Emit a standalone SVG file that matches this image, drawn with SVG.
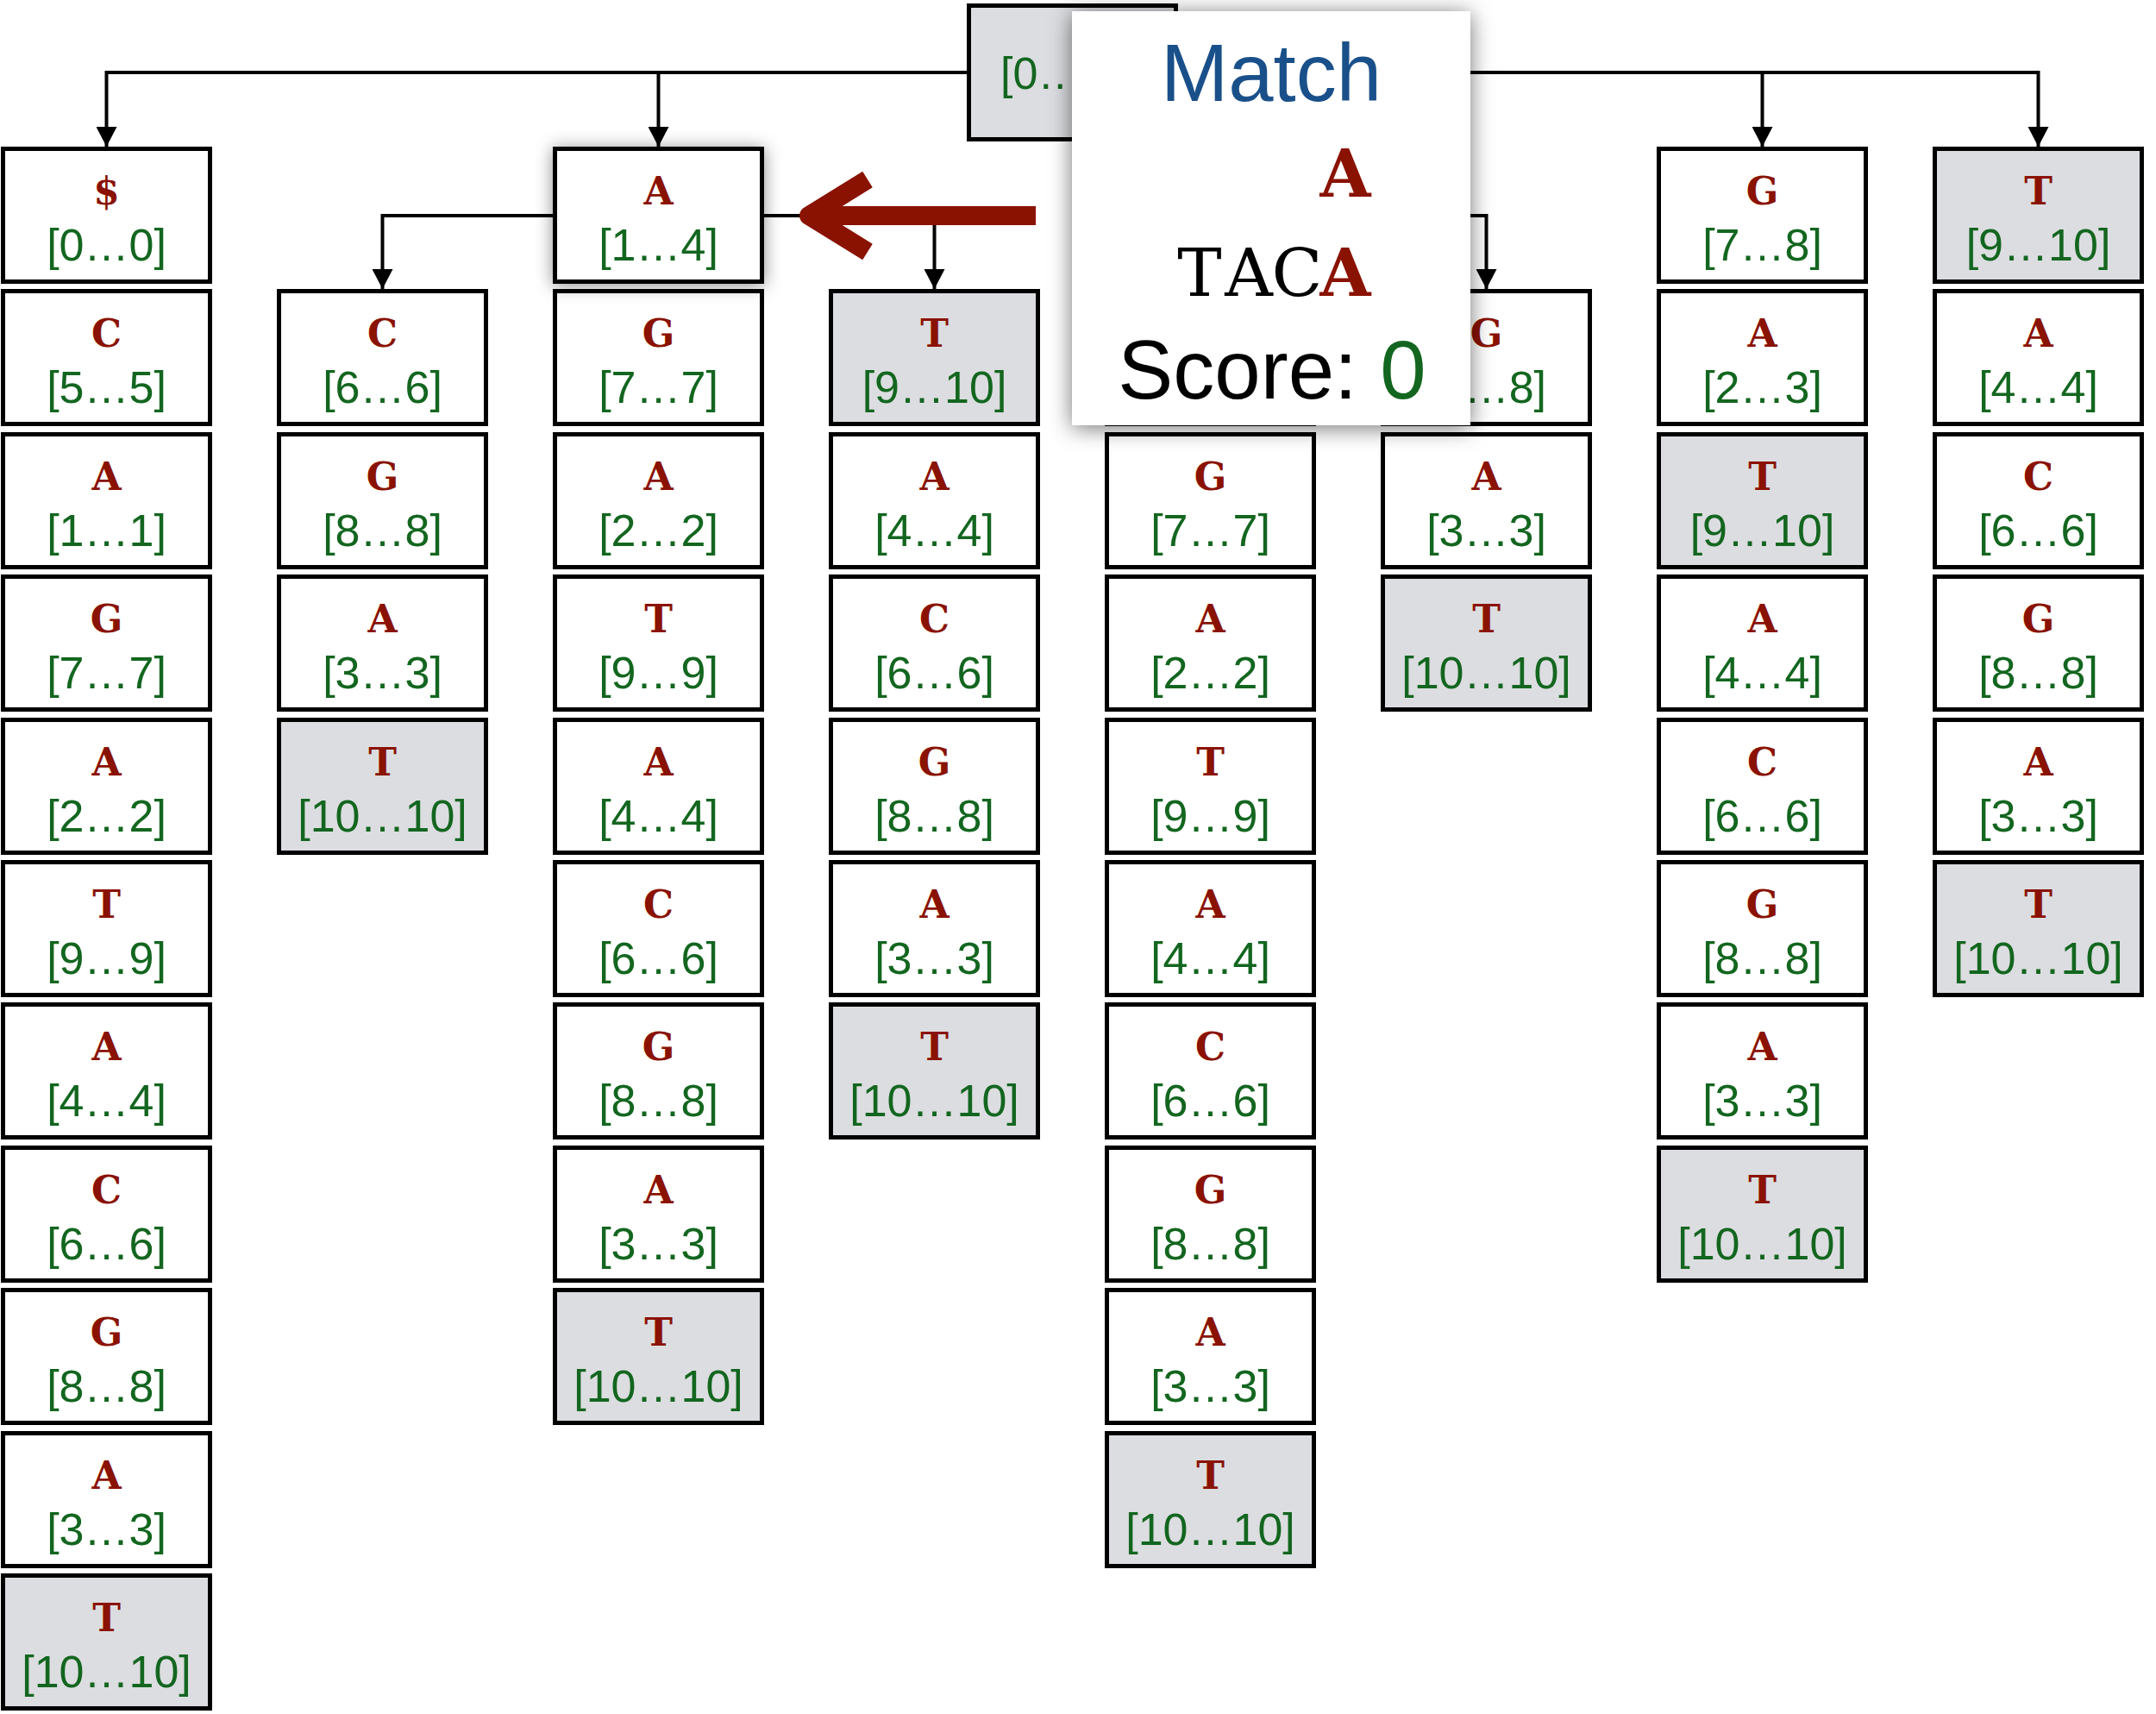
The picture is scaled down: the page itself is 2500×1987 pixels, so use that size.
<svg xmlns="http://www.w3.org/2000/svg" width="2500" height="1987" viewBox="0 0 2500 1987">
  <style>
    .box rect { fill: #ffffff; stroke: #000000; stroke-width: 5; }
    .box.leaf rect { fill: #dcdde0; }
    .ch { font-family: "DejaVu Serif", "Liberation Serif", serif; font-weight: bold; font-size: 44px; fill: #8a1200; text-anchor: middle; }
    .ix { font-family: "Liberation Sans", Arial, sans-serif; font-size: 52px; fill: #13661f; text-anchor: middle; }
    .edge { fill: none; stroke: #000000; stroke-width: 4; }
    .pointer { fill: none; stroke: #8a1200; stroke-width: 22; }
    .seq { font-family: "DejaVu Serif", "Liberation Serif", serif; font-size: 77px; fill: #000000; text-anchor: middle; }
    .seq.hit { font-weight: bold; fill: #8a1200; }
  </style>
  <defs>
    <marker id="head" viewBox="0 0 23 24" refX="23" refY="12" markerWidth="23" markerHeight="24" markerUnits="userSpaceOnUse" orient="auto-start-reverse">
      <path d="M0,0 L23,12 L0,24 Z" fill="#000000"/>
    </marker>
    <filter id="glow" x="-30%" y="-30%" width="160%" height="160%">
      <feDropShadow dx="0" dy="2" stdDeviation="10" flood-color="#000000" flood-opacity="0.45"/>
    </filter>
    <filter id="panelShadow" x="-20%" y="-20%" width="140%" height="140%">
      <feDropShadow dx="0" dy="3" stdDeviation="13" flood-color="#000000" flood-opacity="0.55"/>
    </filter>
  </defs>

  <rect width="2500" height="1987" fill="#ffffff"/>

  <!-- connectors -->
  <g id="connectors">
    <path class="edge" d="M123.5,170 V84 H2363.5 V170" marker-start="url(#head)" marker-end="url(#head)"/>
    <path class="edge" d="M763.5,84 V170" marker-end="url(#head)"/>
    <path class="edge" d="M1403.5,84 V170" marker-end="url(#head)"/>
    <path class="edge" d="M2043.5,84 V170" marker-end="url(#head)"/>
    <path class="edge" d="M443.5,335 V250 H1083.5 V335" marker-start="url(#head)" marker-end="url(#head)"/>
    <path class="edge" d="M1403.5,250 H1723.5 V335" marker-end="url(#head)"/>
  </g>

  <!-- root -->
  <g id="root" class="box leaf" transform="translate(1121,4)">
    <rect x="2.5" y="2.5" width="240" height="155"/>
    <text class="ix" x="39" y="99" style="text-anchor:start">[0…</text>
  </g>

  <!-- column 1 -->
  <g id="c1r0" class="box" transform="translate(1,170)"><rect x="2.5" y="2.5" width="240" height="154"/><text class="ch" x="122.5" y="67">$</text><text class="ix" x="122.5" y="132">[0…0]</text></g>
  <g id="c1r1" class="box" transform="translate(1,335)"><rect x="2.5" y="2.5" width="240" height="154"/><text class="ch" x="122.5" y="67">C</text><text class="ix" x="122.5" y="132">[5…5]</text></g>
  <g id="c1r2" class="box" transform="translate(1,501)"><rect x="2.5" y="2.5" width="240" height="154"/><text class="ch" x="122.5" y="67">A</text><text class="ix" x="122.5" y="132">[1…1]</text></g>
  <g id="c1r3" class="box" transform="translate(1,666)"><rect x="2.5" y="2.5" width="240" height="154"/><text class="ch" x="122.5" y="67">G</text><text class="ix" x="122.5" y="132">[7…7]</text></g>
  <g id="c1r4" class="box" transform="translate(1,832)"><rect x="2.5" y="2.5" width="240" height="154"/><text class="ch" x="122.5" y="67">A</text><text class="ix" x="122.5" y="132">[2…2]</text></g>
  <g id="c1r5" class="box" transform="translate(1,997)"><rect x="2.5" y="2.5" width="240" height="154"/><text class="ch" x="122.5" y="67">T</text><text class="ix" x="122.5" y="132">[9…9]</text></g>
  <g id="c1r6" class="box" transform="translate(1,1162)"><rect x="2.5" y="2.5" width="240" height="154"/><text class="ch" x="122.5" y="67">A</text><text class="ix" x="122.5" y="132">[4…4]</text></g>
  <g id="c1r7" class="box" transform="translate(1,1328)"><rect x="2.5" y="2.5" width="240" height="154"/><text class="ch" x="122.5" y="67">C</text><text class="ix" x="122.5" y="132">[6…6]</text></g>
  <g id="c1r8" class="box" transform="translate(1,1493)"><rect x="2.5" y="2.5" width="240" height="154"/><text class="ch" x="122.5" y="67">G</text><text class="ix" x="122.5" y="132">[8…8]</text></g>
  <g id="c1r9" class="box" transform="translate(1,1659)"><rect x="2.5" y="2.5" width="240" height="154"/><text class="ch" x="122.5" y="67">A</text><text class="ix" x="122.5" y="132">[3…3]</text></g>
  <g id="c1r10" class="box leaf" transform="translate(1,1824)"><rect x="2.5" y="2.5" width="240" height="154"/><text class="ch" x="122.5" y="67">T</text><text class="ix" x="122.5" y="132">[10…10]</text></g>

  <!-- column 2 -->
  <g id="c2r1" class="box" transform="translate(321,335)"><rect x="2.5" y="2.5" width="240" height="154"/><text class="ch" x="122.5" y="67">C</text><text class="ix" x="122.5" y="132">[6…6]</text></g>
  <g id="c2r2" class="box" transform="translate(321,501)"><rect x="2.5" y="2.5" width="240" height="154"/><text class="ch" x="122.5" y="67">G</text><text class="ix" x="122.5" y="132">[8…8]</text></g>
  <g id="c2r3" class="box" transform="translate(321,666)"><rect x="2.5" y="2.5" width="240" height="154"/><text class="ch" x="122.5" y="67">A</text><text class="ix" x="122.5" y="132">[3…3]</text></g>
  <g id="c2r4" class="box leaf" transform="translate(321,832)"><rect x="2.5" y="2.5" width="240" height="154"/><text class="ch" x="122.5" y="67">T</text><text class="ix" x="122.5" y="132">[10…10]</text></g>

  <!-- column 3 (below the highlighted node) -->
  <g id="c3r1" class="box" transform="translate(641,335)"><rect x="2.5" y="2.5" width="240" height="154"/><text class="ch" x="122.5" y="67">G</text><text class="ix" x="122.5" y="132">[7…7]</text></g>
  <g id="c3r2" class="box" transform="translate(641,501)"><rect x="2.5" y="2.5" width="240" height="154"/><text class="ch" x="122.5" y="67">A</text><text class="ix" x="122.5" y="132">[2…2]</text></g>
  <g id="c3r3" class="box" transform="translate(641,666)"><rect x="2.5" y="2.5" width="240" height="154"/><text class="ch" x="122.5" y="67">T</text><text class="ix" x="122.5" y="132">[9…9]</text></g>
  <g id="c3r4" class="box" transform="translate(641,832)"><rect x="2.5" y="2.5" width="240" height="154"/><text class="ch" x="122.5" y="67">A</text><text class="ix" x="122.5" y="132">[4…4]</text></g>
  <g id="c3r5" class="box" transform="translate(641,997)"><rect x="2.5" y="2.5" width="240" height="154"/><text class="ch" x="122.5" y="67">C</text><text class="ix" x="122.5" y="132">[6…6]</text></g>
  <g id="c3r6" class="box" transform="translate(641,1162)"><rect x="2.5" y="2.5" width="240" height="154"/><text class="ch" x="122.5" y="67">G</text><text class="ix" x="122.5" y="132">[8…8]</text></g>
  <g id="c3r7" class="box" transform="translate(641,1328)"><rect x="2.5" y="2.5" width="240" height="154"/><text class="ch" x="122.5" y="67">A</text><text class="ix" x="122.5" y="132">[3…3]</text></g>
  <g id="c3r8" class="box leaf" transform="translate(641,1493)"><rect x="2.5" y="2.5" width="240" height="154"/><text class="ch" x="122.5" y="67">T</text><text class="ix" x="122.5" y="132">[10…10]</text></g>

  <!-- column 4 -->
  <g id="c4r1" class="box leaf" transform="translate(961,335)"><rect x="2.5" y="2.5" width="240" height="154"/><text class="ch" x="122.5" y="67">T</text><text class="ix" x="122.5" y="132">[9…10]</text></g>
  <g id="c4r2" class="box" transform="translate(961,501)"><rect x="2.5" y="2.5" width="240" height="154"/><text class="ch" x="122.5" y="67">A</text><text class="ix" x="122.5" y="132">[4…4]</text></g>
  <g id="c4r3" class="box" transform="translate(961,666)"><rect x="2.5" y="2.5" width="240" height="154"/><text class="ch" x="122.5" y="67">C</text><text class="ix" x="122.5" y="132">[6…6]</text></g>
  <g id="c4r4" class="box" transform="translate(961,832)"><rect x="2.5" y="2.5" width="240" height="154"/><text class="ch" x="122.5" y="67">G</text><text class="ix" x="122.5" y="132">[8…8]</text></g>
  <g id="c4r5" class="box" transform="translate(961,997)"><rect x="2.5" y="2.5" width="240" height="154"/><text class="ch" x="122.5" y="67">A</text><text class="ix" x="122.5" y="132">[3…3]</text></g>
  <g id="c4r6" class="box leaf" transform="translate(961,1162)"><rect x="2.5" y="2.5" width="240" height="154"/><text class="ch" x="122.5" y="67">T</text><text class="ix" x="122.5" y="132">[10…10]</text></g>

  <!-- column 5 -->
  <g id="c5r1" class="box" transform="translate(1281,335)"><rect x="2.5" y="2.5" width="240" height="154"/></g>
  <g id="c5r2" class="box" transform="translate(1281,501)"><rect x="2.5" y="2.5" width="240" height="154"/><text class="ch" x="122.5" y="67">G</text><text class="ix" x="122.5" y="132">[7…7]</text></g>
  <g id="c5r3" class="box" transform="translate(1281,666)"><rect x="2.5" y="2.5" width="240" height="154"/><text class="ch" x="122.5" y="67">A</text><text class="ix" x="122.5" y="132">[2…2]</text></g>
  <g id="c5r4" class="box" transform="translate(1281,832)"><rect x="2.5" y="2.5" width="240" height="154"/><text class="ch" x="122.5" y="67">T</text><text class="ix" x="122.5" y="132">[9…9]</text></g>
  <g id="c5r5" class="box" transform="translate(1281,997)"><rect x="2.5" y="2.5" width="240" height="154"/><text class="ch" x="122.5" y="67">A</text><text class="ix" x="122.5" y="132">[4…4]</text></g>
  <g id="c5r6" class="box" transform="translate(1281,1162)"><rect x="2.5" y="2.5" width="240" height="154"/><text class="ch" x="122.5" y="67">C</text><text class="ix" x="122.5" y="132">[6…6]</text></g>
  <g id="c5r7" class="box" transform="translate(1281,1328)"><rect x="2.5" y="2.5" width="240" height="154"/><text class="ch" x="122.5" y="67">G</text><text class="ix" x="122.5" y="132">[8…8]</text></g>
  <g id="c5r8" class="box" transform="translate(1281,1493)"><rect x="2.5" y="2.5" width="240" height="154"/><text class="ch" x="122.5" y="67">A</text><text class="ix" x="122.5" y="132">[3…3]</text></g>
  <g id="c5r9" class="box leaf" transform="translate(1281,1659)"><rect x="2.5" y="2.5" width="240" height="154"/><text class="ch" x="122.5" y="67">T</text><text class="ix" x="122.5" y="132">[10…10]</text></g>

  <!-- column 6 -->
  <g id="c6r1" class="box" transform="translate(1601,335)"><rect x="2.5" y="2.5" width="240" height="154"/><text class="ch" x="122.5" y="67">G</text><text class="ix" x="192" y="132" style="text-anchor:end">…8]</text></g>
  <g id="c6r2" class="box" transform="translate(1601,501)"><rect x="2.5" y="2.5" width="240" height="154"/><text class="ch" x="122.5" y="67">A</text><text class="ix" x="122.5" y="132">[3…3]</text></g>
  <g id="c6r3" class="box leaf" transform="translate(1601,666)"><rect x="2.5" y="2.5" width="240" height="154"/><text class="ch" x="122.5" y="67">T</text><text class="ix" x="122.5" y="132">[10…10]</text></g>

  <!-- column 7 -->
  <g id="c7r0" class="box" transform="translate(1921,170)"><rect x="2.5" y="2.5" width="240" height="154"/><text class="ch" x="122.5" y="67">G</text><text class="ix" x="122.5" y="132">[7…8]</text></g>
  <g id="c7r1" class="box" transform="translate(1921,335)"><rect x="2.5" y="2.5" width="240" height="154"/><text class="ch" x="122.5" y="67">A</text><text class="ix" x="122.5" y="132">[2…3]</text></g>
  <g id="c7r2" class="box leaf" transform="translate(1921,501)"><rect x="2.5" y="2.5" width="240" height="154"/><text class="ch" x="122.5" y="67">T</text><text class="ix" x="122.5" y="132">[9…10]</text></g>
  <g id="c7r3" class="box" transform="translate(1921,666)"><rect x="2.5" y="2.5" width="240" height="154"/><text class="ch" x="122.5" y="67">A</text><text class="ix" x="122.5" y="132">[4…4]</text></g>
  <g id="c7r4" class="box" transform="translate(1921,832)"><rect x="2.5" y="2.5" width="240" height="154"/><text class="ch" x="122.5" y="67">C</text><text class="ix" x="122.5" y="132">[6…6]</text></g>
  <g id="c7r5" class="box" transform="translate(1921,997)"><rect x="2.5" y="2.5" width="240" height="154"/><text class="ch" x="122.5" y="67">G</text><text class="ix" x="122.5" y="132">[8…8]</text></g>
  <g id="c7r6" class="box" transform="translate(1921,1162)"><rect x="2.5" y="2.5" width="240" height="154"/><text class="ch" x="122.5" y="67">A</text><text class="ix" x="122.5" y="132">[3…3]</text></g>
  <g id="c7r7" class="box leaf" transform="translate(1921,1328)"><rect x="2.5" y="2.5" width="240" height="154"/><text class="ch" x="122.5" y="67">T</text><text class="ix" x="122.5" y="132">[10…10]</text></g>

  <!-- column 8 -->
  <g id="c8r0" class="box leaf" transform="translate(2241,170)"><rect x="2.5" y="2.5" width="240" height="154"/><text class="ch" x="122.5" y="67">T</text><text class="ix" x="122.5" y="132">[9…10]</text></g>
  <g id="c8r1" class="box" transform="translate(2241,335)"><rect x="2.5" y="2.5" width="240" height="154"/><text class="ch" x="122.5" y="67">A</text><text class="ix" x="122.5" y="132">[4…4]</text></g>
  <g id="c8r2" class="box" transform="translate(2241,501)"><rect x="2.5" y="2.5" width="240" height="154"/><text class="ch" x="122.5" y="67">C</text><text class="ix" x="122.5" y="132">[6…6]</text></g>
  <g id="c8r3" class="box" transform="translate(2241,666)"><rect x="2.5" y="2.5" width="240" height="154"/><text class="ch" x="122.5" y="67">G</text><text class="ix" x="122.5" y="132">[8…8]</text></g>
  <g id="c8r4" class="box" transform="translate(2241,832)"><rect x="2.5" y="2.5" width="240" height="154"/><text class="ch" x="122.5" y="67">A</text><text class="ix" x="122.5" y="132">[3…3]</text></g>
  <g id="c8r5" class="box leaf" transform="translate(2241,997)"><rect x="2.5" y="2.5" width="240" height="154"/><text class="ch" x="122.5" y="67">T</text><text class="ix" x="122.5" y="132">[10…10]</text></g>

  <!-- highlighted node, lifted with a soft shadow -->
  <g id="c3r0" class="box" transform="translate(641,170)">
    <rect x="2.5" y="2.5" width="240" height="154" filter="url(#glow)"/>
    <text class="ch" x="122.5" y="67">A</text><text class="ix" x="122.5" y="132">[1…4]</text>
  </g>

  <!-- pointer arrow -->
  <g id="pointer">
    <path class="pointer" d="M1201,250 H950"/>
    <path class="pointer" d="M1006,208 L938,250 L1006,292" stroke-linejoin="round"/>
  </g>

  <!-- match panel -->
  <g id="match-panel">
    <rect x="1243" y="13" width="462" height="480" fill="#ffffff" filter="url(#panelShadow)"/>
    <text x="1474" y="117" font-family="Liberation Sans, Arial, sans-serif" font-size="94" fill="#1a508a" text-anchor="middle">Match</text>
    <text class="seq hit" x="1560" y="228" style="font-size:76px">A</text>
    <text class="seq" x="1391" y="343">T</text>
    <text class="seq" x="1448" y="343">A</text>
    <text class="seq" x="1504" y="343">C</text>
    <text class="seq hit" x="1560" y="343" style="font-size:76px">A</text>
    <text x="1475" y="462" font-family="Liberation Sans, Arial, sans-serif" font-size="96" fill="#000000" text-anchor="middle">Score: <tspan fill="#13661f">0</tspan></text>
  </g>
</svg>
